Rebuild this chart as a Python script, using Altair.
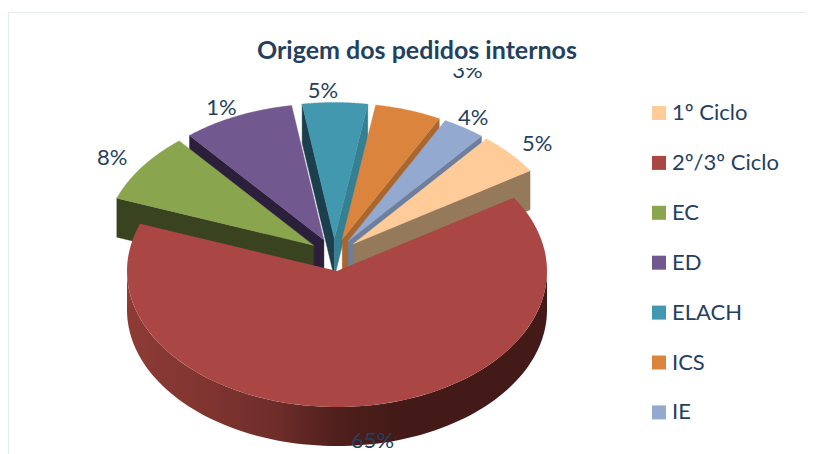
import math
import altair as alt
import pandas as pd

categories = ["1º Ciclo", "2º/3º Ciclo", "EC", "ED", "ELACH", "ICS", "IE"]
slice_sizes = [5.0, 64.7, 8.3, 8.6, 5.0, 5.1, 3.3]
shown_labels = ["5%", "65%", "8%", "1%", "5%", "3%", "4%"]
top_colors = ["#FFCC99", "#AA4643", "#89A54E", "#71588F", "#4198AF", "#DB843D", "#93A9CF"]
start_wall_colors = [None, None, "#3A431F", "#2B1F3B", "#1B3F4D", None, None]
end_wall_colors = ["#94795A", None, None, None, "#357F92", "#A9662F", "#6D7F9C"]
label_shift_x = [5, 10, -6, -4, -12, 50, -7]
label_shift_y = [3, 16, 2, 9, 8, -21, 6]

FONT = "Lato"
INK = "#243F60"
CX, CY = 326.3, 246.8     # pie centre inside the plot
RX, RY = 210, 136         # ellipse radii of the top face
DEPTH = 39
EXPLODE = 0.12
FIRST_ANGLE = 39.4


def pt(ox, oy, deg, k=1.0):
    a = math.radians(deg)
    return [ox + k * RX * math.sin(a), oy - k * RY * math.cos(a)]


def feature(ring, fill):
    return {"type": "Feature", "properties": {"fill": fill},
            "geometry": {"type": "Polygon", "coordinates": [ring + [ring[0]]]}}


def arc_points(ox, oy, a0, a1, n=48):
    return [pt(ox, oy, a0 + (a1 - a0) * i / n) for i in range(n + 1)]


spans, apexes, angle = [], [], FIRST_ANGLE
for v in slice_sizes:
    spans.append((angle, angle + v * 3.6))
    mid = angle + v * 1.8
    apexes.append(pt(CX, CY, mid, EXPLODE))
    angle += v * 3.6


def wall(apex, deg, fill):
    c = pt(apex[0], apex[1], deg)
    return feature([apex, c, [c[0], c[1] + DEPTH], [apex[0], apex[1] + DEPTH]], fill)


def slice_features(i):
    a0, a1 = spans[i]
    ap = apexes[i]
    out = []
    if start_wall_colors[i]:
        out.append(wall(ap, a0, start_wall_colors[i]))
    if end_wall_colors[i]:
        out.append(wall(ap, a1, end_wall_colors[i]))
    out.append(feature([ap] + arc_points(ap[0], ap[1], a0, a1), top_colors[i]))
    return out


# far slices first, the nearer ones on top of them
far = []
for i in [4, 3, 5, 6, 2, 0]:
    far += slice_features(i)

RED = 1
ra = apexes[RED]
lo, hi = 90, 270
front = arc_points(ra[0], ra[1], lo, hi, 96)
red_wall = [feature(front + [[x, y + DEPTH] for x, y in reversed(front)], "#000")]
red_top = [feature([ra] + arc_points(ra[0], ra[1], spans[RED][0], spans[RED][1], 96), top_colors[RED])]

proj = alt.Projection(type="identity", scale=1, translate=[0, 0])

far_layer = alt.Chart(alt.Data(values=far)).mark_geoshape(strokeWidth=0.4).encode(
    fill=alt.Fill("properties.fill:N", scale=None, legend=None),
    stroke=alt.Stroke("properties.fill:N", scale=None, legend=None),
).project(**proj.to_dict())

gradient = alt.Gradient(
    gradient="linear", x1=0, x2=1, y1=0, y2=0,
    stops=[alt.GradientStop(color="#8E3B37", offset=0),
           alt.GradientStop(color="#7F3430", offset=0.2),
           alt.GradientStop(color="#6F2D2A", offset=0.35),
           alt.GradientStop(color="#4F1F1C", offset=0.5),
           alt.GradientStop(color="#431A17", offset=0.65),
           alt.GradientStop(color="#431A17", offset=1)],
)
wall_layer = alt.Chart(alt.Data(values=red_wall)).mark_geoshape(fill=gradient, strokeWidth=0).project(**proj.to_dict())
top_layer = alt.Chart(alt.Data(values=red_top)).mark_geoshape(fill=top_colors[RED], strokeWidth=0).project(**proj.to_dict())

rows = []
for i, c in enumerate(categories):
    mid = (spans[i][0] + spans[i][1]) / 2
    x, y = pt(CX, CY, mid, 1.26)
    rows.append({"category": c, "label": shown_labels[i],
                 "lx": x + label_shift_x[i], "ly": y + label_shift_y[i]})
table = pd.DataFrame(rows)

labels = alt.Chart(table).mark_text(font=FONT, fontSize=22, color=INK).encode(
    x=alt.X("lx:Q", scale=None, axis=None),
    y=alt.Y("ly:Q", scale=None, axis=None),
    text="label:N",
)

# white title box that cuts the top of the label beneath it, as in the source
title_box = alt.Chart(pd.DataFrame({"a": [0]})).mark_rect(fill="white").encode(
    x=alt.value(249), x2=alt.value(569), y=alt.value(30), y2=alt.value(60))

legend_layer = alt.Chart(table).mark_square(size=0, opacity=1).encode(
    x=alt.value(0), y=alt.value(0),
    color=alt.Color("category:N",
                    scale=alt.Scale(domain=categories, range=top_colors),
                    legend=alt.Legend(orient="none", legendX=640, legendY=94, title=None,
                                      symbolType="square", symbolSize=196, symbolStrokeWidth=0,
                                      symbolOpacity=1,
                                      labelFont=FONT, labelFontSize=22, labelColor=INK,
                                      labelOffset=2, rowPadding=27.9, labelLimit=200)),
)

frame_top = alt.Chart(pd.DataFrame({"a": [0]})).mark_rule(color="#E6EBF3", strokeWidth=1).encode(
    x=alt.value(0), x2=alt.value(798), y=alt.value(4.5))
frame_left = alt.Chart(pd.DataFrame({"a": [0]})).mark_rule(color="#E6EBF3", strokeWidth=1).encode(
    x=alt.value(0.5), y=alt.value(4.5), y2=alt.value(446))

chart = alt.layer(frame_top, frame_left, far_layer, wall_layer, top_layer, labels, title_box, legend_layer).properties(
    width=798, height=446, padding=0,
    autosize=alt.AutoSizeParams(type="none"),
    background="white",
    title=alt.TitleParams("Origem dos pedidos internos", font=FONT, fontSize=25, fontWeight="bold",
                          color=INK, anchor="middle", dx=10, dy=60, zindex=1),
).configure_view(stroke=None)

chart.save("out.html", embed_options={"renderer": "svg", "actions": False})
